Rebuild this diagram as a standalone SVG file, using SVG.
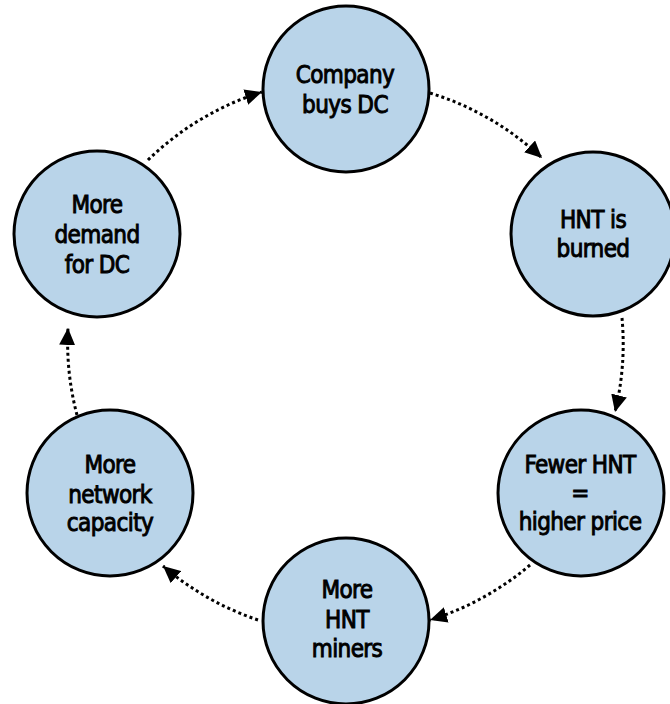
<svg xmlns="http://www.w3.org/2000/svg" width="670" height="704" viewBox="0 0 670 704">
<style>
.node circle{fill:#b9d4e9;stroke:#000;stroke-width:3}
.node text{font-family:"DejaVu Sans Condensed","DejaVu Sans",sans-serif;font-size:24px;letter-spacing:-0.6px;fill:#000;stroke:#000;stroke-width:0.9;text-anchor:middle}
.conn path{fill:none;stroke:#000;stroke-width:3;stroke-dasharray:3 3;marker-end:url(#ah)}
</style>
<defs>
<marker id="ah" markerUnits="userSpaceOnUse" markerWidth="18" markerHeight="16" refX="17" refY="8" orient="auto">
<path d="M0,0 L17,8 L0,16 z" fill="#000"/>
</marker>
</defs>
<rect width="670" height="704" fill="#fff"/>
<g id="connectors" class="conn">
<path d="M430,93 A285,285 0 0 1 542,158"/>
<path d="M622,318 A285,285 0 0 1 615,412"/>
<path d="M530,565 A285,285 0 0 1 430,620"/>
<path d="M258,620 A285,285 0 0 1 163,566"/>
<path d="M77,415 A285,285 0 0 1 68,328"/>
<path d="M148,160 A285,285 0 0 1 262,92"/>
</g>
<g id="company" class="node">
<circle cx="346" cy="89" r="83"/>
<text x="345" y="83">Company</text>
<text x="345" y="113">buys DC</text>
</g>
<g id="burned" class="node">
<circle cx="593" cy="234" r="82"/>
<text x="593" y="228">HNT is</text>
<text x="593" y="257">burned</text>
</g>
<g id="fewer" class="node">
<circle cx="581" cy="493" r="83"/>
<text x="580" y="473">Fewer HNT</text>
<text x="580" y="501">=</text>
<text x="580" y="530">higher price</text>
</g>
<g id="miners" class="node">
<circle cx="346" cy="621" r="83"/>
<text x="347" y="598">More</text>
<text x="347" y="628">HNT</text>
<text x="347" y="657">miners</text>
</g>
<g id="capacity" class="node">
<circle cx="110" cy="493" r="83"/>
<text x="110" y="473">More</text>
<text x="110" y="503">network</text>
<text x="110" y="531">capacity</text>
</g>
<g id="demand" class="node">
<circle cx="97" cy="234" r="83"/>
<text x="97" y="213">More</text>
<text x="97" y="243">demand</text>
<text x="97" y="273">for DC</text>
</g>
</svg>
